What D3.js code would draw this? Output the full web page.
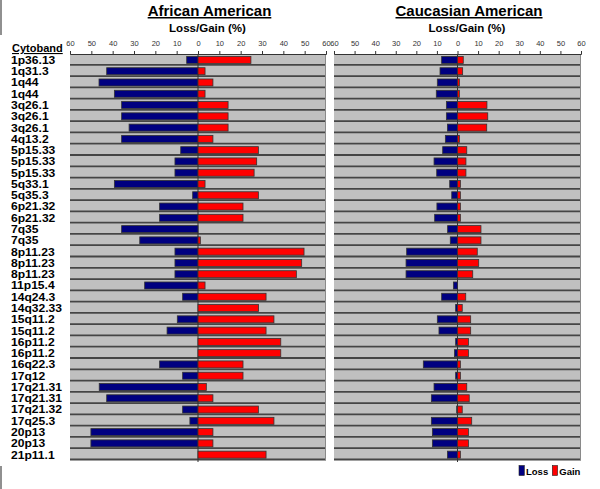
<!DOCTYPE html>
<html><head><meta charset="utf-8">
<script src="https://cdn.jsdelivr.net/npm/d3@7"></script>
<style>body{margin:0;background:#fff}svg{display:block}</style>
</head><body><svg id="c" width="600" height="489"></svg>
<script>
const cytobands = ["1p36.13","1q31.3","1q44","1q44","3q26.1","3q26.1","3q26.1","4q13.2","5p15.33","5p15.33","5p15.33","5q33.1","5q35.3","6p21.32","6p21.32","7q35","7q35","8p11.23","8p11.23","8p11.23","11p15.4","14q24.3","14q32.33","15q11.2","15q11.2","16p11.2","16p11.2","16q22.3","17q12","17q21.31","17q21.31","17q21.32","17q25.3","20p13","20p13","21p11.1"];
const aaLoss = [5.3,42.8,46.4,39.2,35.8,35.8,32.3,35.8,8.1,10.8,10.8,39.2,2.5,18,18,35.8,27.3,10.8,10.8,10.8,25,7.2,0,9.7,14.5,0,0,18,7.2,46.3,42.8,7.2,3.8,50.2,50.2,0];
const aaGain = [24.8,3.3,7.0,3.3,14.1,14.1,14.1,7.0,28.3,27.5,26.3,3.3,28.3,21.1,21.1,0,1.1,49.7,48.6,46.1,3.3,31.9,28.4,35.6,31.9,38.8,38.8,21.1,21.1,3.9,7.0,28.3,35.6,7.0,7.0,31.9];
const caLoss = [7.7,8.5,9.8,10.3,5.4,5.4,4.9,5.9,7.2,11.4,10.1,3.8,2.8,10,11.1,4.8,3.5,24.7,25,25,2,7.7,0.9,9.8,9,0.9,1.5,16.6,0.9,11.4,12.7,0.4,12.7,12.2,12.2,4.9];
const caGain = [2.8,2.5,0.9,0.9,14.3,14.7,14.2,0.9,4.5,4.1,4.1,1.4,1.4,1.4,1.4,11.4,11.4,9.6,10.3,7.4,0,4.0,2.3,6.4,6.4,5.3,5.3,1.4,1.4,4.5,5.7,2.3,6.9,5.3,5.3,1.4];
const tickVals = [-60,-50,-40,-30,-20,-10,0,10,20,30,40,50,60];
const titles = ["African American","Caucasian American"];
const axisTitle = "Loss/Gain (%)";
const legendItems = ["Loss","Gain"];

const svg = d3.select("#c");
const y = d3.scaleBand().domain(d3.range(cytobands.length)).range([54,460]).padding(0);
const bw = y.bandwidth();
const barH = 7;
const BLUE = "#000080", RED = "#ff0000";

// left border artifacts
svg.append("line").attr("x1",1).attr("x2",1).attr("y1",0).attr("y2",35).attr("stroke","#909090").attr("stroke-width",2);
svg.append("line").attr("x1",1).attr("x2",1).attr("y1",466).attr("y2",489).attr("stroke","#909090").attr("stroke-width",2);

function stretchText(g, x, yy, txt, size, sx, anchor){
  return g.append("text").attr("transform",`translate(${x},${yy}) scale(${sx},1)`)
    .attr("text-anchor",anchor||"start").attr("font-family","Liberation Sans, Arial, sans-serif")
    .attr("font-weight","bold").attr("font-size",size).attr("fill","#000").text(txt);
}

function panel(x0, x1, loss, gain, title, titleX){
  const x = d3.scaleLinear().domain([-60,60]).range([x0,x1]);
  const g = svg.append("g");
  // rows
  g.selectAll("rect.bg").data(cytobands).join("rect").attr("class","bg")
    .attr("x",x0).attr("y",(d,i)=>y(i)).attr("width",x1-x0).attr("height",bw).attr("fill","#c0c0c0");
  g.selectAll("line.sep").data(cytobands).join("line").attr("class","sep")
    .attr("x1",x0).attr("x2",x1).attr("y1",(d,i)=>y(i)+bw-0.5).attr("y2",(d,i)=>y(i)+bw-0.5)
    .attr("stroke","#454545").attr("stroke-width",1.8);
  g.append("line").attr("x1",x1-0.5).attr("x2",x1-0.5).attr("y1",54).attr("y2",460).attr("stroke","#8a8a8a").attr("stroke-width",1);
  // zero line
  g.append("line").attr("x1",x(0)).attr("x2",x(0)).attr("y1",54).attr("y2",462).attr("stroke","#333").attr("stroke-width",1);
  // bars
  const rows = d3.range(cytobands.length);
  g.selectAll("rect.loss").data(rows.filter(i=>loss[i]>0)).join("rect").attr("class","loss")
    .attr("x",i=>x(-loss[i])).attr("width",i=>x(0)-x(-loss[i]))
    .attr("y",i=>y(i)+bw/2-barH/2+0.3).attr("height",barH)
    .attr("fill",BLUE).attr("stroke","#333").attr("stroke-width",0.8);
  g.selectAll("rect.gain").data(rows.filter(i=>gain[i]>0)).join("rect").attr("class","gain")
    .attr("x",x(0)).attr("width",i=>x(gain[i])-x(0))
    .attr("y",i=>y(i)+bw/2-barH/2+0.3).attr("height",barH)
    .attr("fill",RED).attr("stroke","#333").attr("stroke-width",0.8);
  // axis
  const ax = d3.axisTop(x).tickValues(tickVals).tickSize(3).tickPadding(5).tickFormat(d=>Math.abs(d));
  const axg = g.append("g").attr("transform","translate(0,54)").call(ax);
  axg.select(".domain").attr("stroke","#333");
  axg.selectAll(".tick line").attr("stroke","#333");
  axg.selectAll(".tick text").attr("font-family","Liberation Sans Narrow, Arial Narrow, sans-serif")
    .attr("font-size",7.5).attr("fill","#333");
  // titles
  const t = stretchText(g, titleX, 16, title, 15, 1.0, "middle");
  t.attr("text-decoration","underline");
  stretchText(g, titleX-2, 32, axisTitle, 10.5, 1.1, "middle");
}

panel(70, 326, aaLoss, aaGain, titles[0], 209.5);
panel(334, 581, caLoss, caGain, titles[1], 469);

// row labels
const lg = svg.append("g");
const ct = stretchText(lg, 12, 52, "Cytoband", 11, 1.0, "start");
ct.attr("text-decoration","underline");
cytobands.forEach((c,i)=>{
  stretchText(lg, 11, y(i)+bw/2+4.2, c, 11, 1.1, "start");
});

// legend
const leg = svg.append("g");
const legCols = [BLUE, RED];
const legX = [519, 552.3];
legendItems.forEach((t,i)=>{
  leg.append("rect").attr("x",legX[i]).attr("y",465.5).attr("width",5.3).attr("height",10).attr("fill",legCols[i]).attr("stroke","#222").attr("stroke-width",0.6);
  stretchText(leg, legX[i]+7, 474.5, t, 9.5, 1.0, "start");
});
</script></body></html>
